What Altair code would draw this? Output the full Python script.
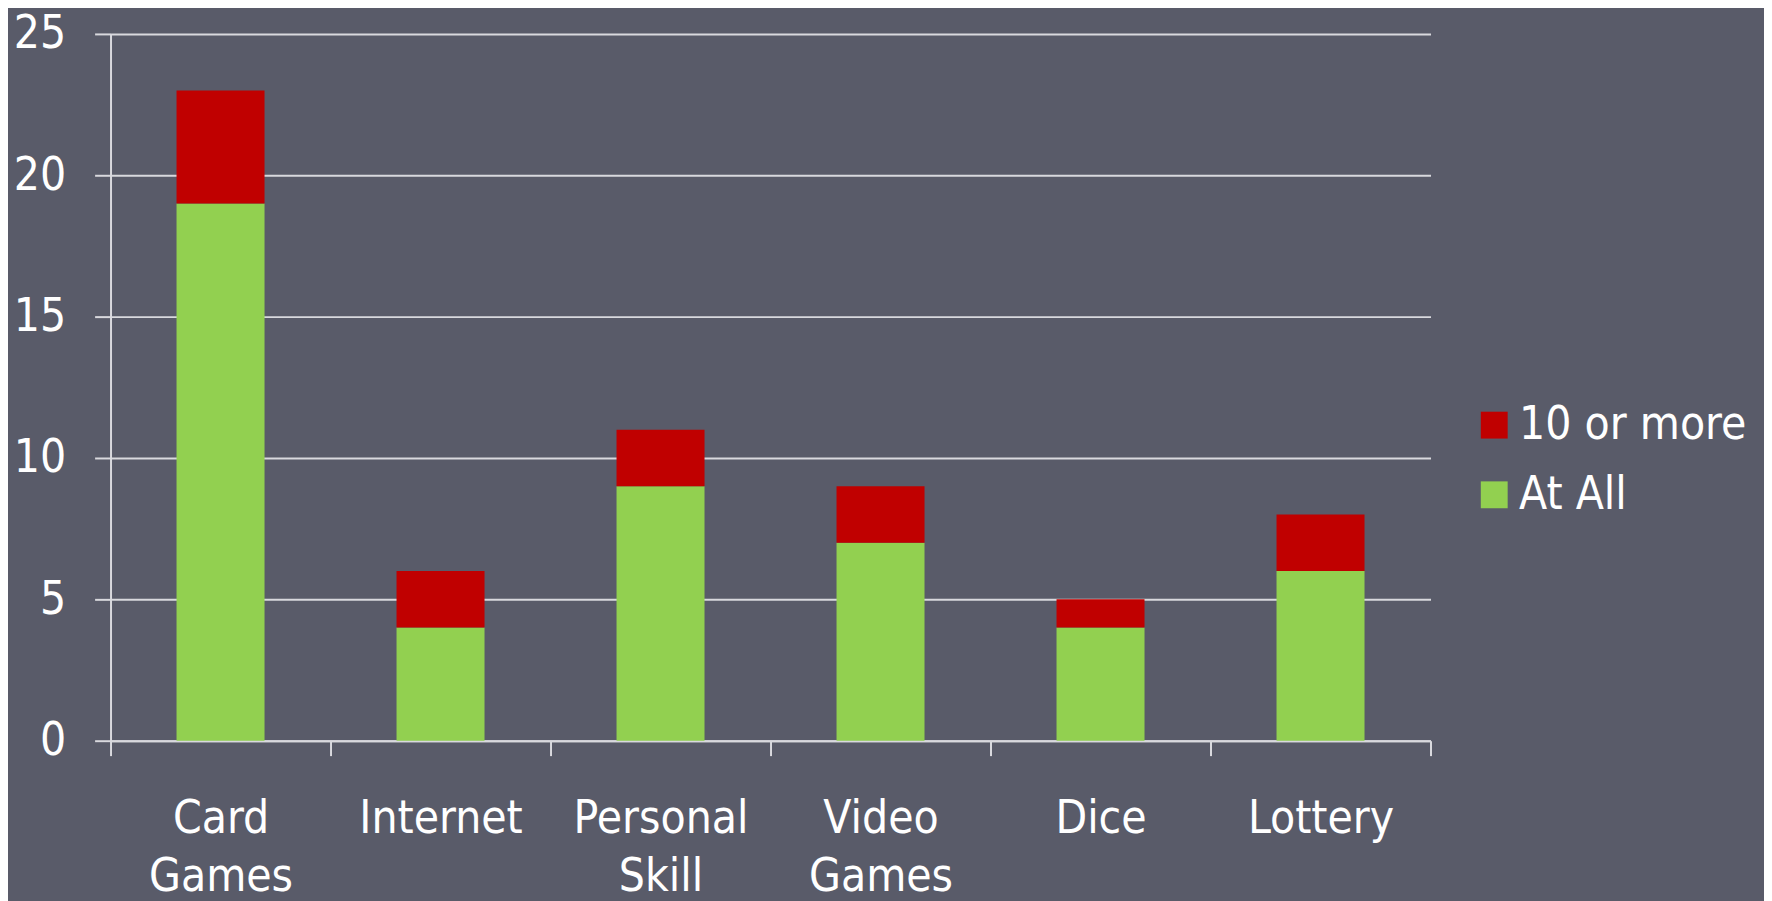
import altair as alt
import pandas as pd

categories = ["Card Games", "Internet", "Personal Skill", "Video Games", "Dice", "Lottery"]
at_all = [19, 4, 9, 7, 4, 6]
ten_or_more = [4, 2, 2, 2, 1, 2]
series = ["10 or more", "At All"]
series_colors = ["#C00000", "#92D050"]
y_ticks = [0, 5, 10, 15, 20, 25]

rows = []
for c, a, t in zip(categories, at_all, ten_or_more):
    rows.append({"category": c, "series": "At All", "value": a, "ord": 0})
    rows.append({"category": c, "series": "10 or more", "value": t, "ord": 1})
df = pd.DataFrame(rows)

FONT = "DejaVu Sans Condensed"
LINE = "#D9D9DE"
BG = "#595B69"

chart = alt.Chart(df).mark_bar(width=alt.RelativeBandSize(0.4)).encode(
    x=alt.X(
        "category:N",
        sort=categories,
        scale=alt.Scale(paddingInner=0, paddingOuter=0),
        axis=alt.Axis(
            title=None, labelAngle=0, tickBand="extent",
            labelExpr="split(datum.label, ' ')",
            labelLineHeight=59, labelFontSize=46, labelFont=FONT, labelColor="white",
            labelBaseline="top", labelPadding=41,
            tickSize=15, tickColor=LINE, tickWidth=2,
            domainColor=LINE, domainWidth=2,
        ),
    ),
    y=alt.Y(
        "value:Q", stack="zero",
        scale=alt.Scale(domain=[0, 25], nice=False),
        axis=alt.Axis(
            values=y_ticks, title=None,
            labelFontSize=46, labelFont=FONT, labelColor="white", labelPadding=29,
            tickSize=16, tickColor=LINE, tickWidth=2,
            domainColor=LINE, domainWidth=2,
            gridColor=LINE, gridWidth=2,
        ),
    ),
    color=alt.Color(
        "series:N",
        scale=alt.Scale(domain=series, range=series_colors),
        legend=alt.Legend(
            title=None, orient="none", legendX=1367, legendY=370,
            symbolType="square", symbolSize=729, symbolStrokeWidth=0,
            labelFontSize=46, labelFont=FONT, labelColor="white", labelLimit=0,
            labelOffset=2, rowPadding=24,
        ),
    ),
    order=alt.Order("ord:Q"),
).properties(
    width=1326, height=710,
    autosize=alt.AutoSizeParams(type="none"),
    padding={"left": 103, "top": 24, "right": 335, "bottom": 160},
    background=BG,
).configure_view(stroke=None)

chart.save("out.html", embed_options={"renderer": "svg", "actions": False})
